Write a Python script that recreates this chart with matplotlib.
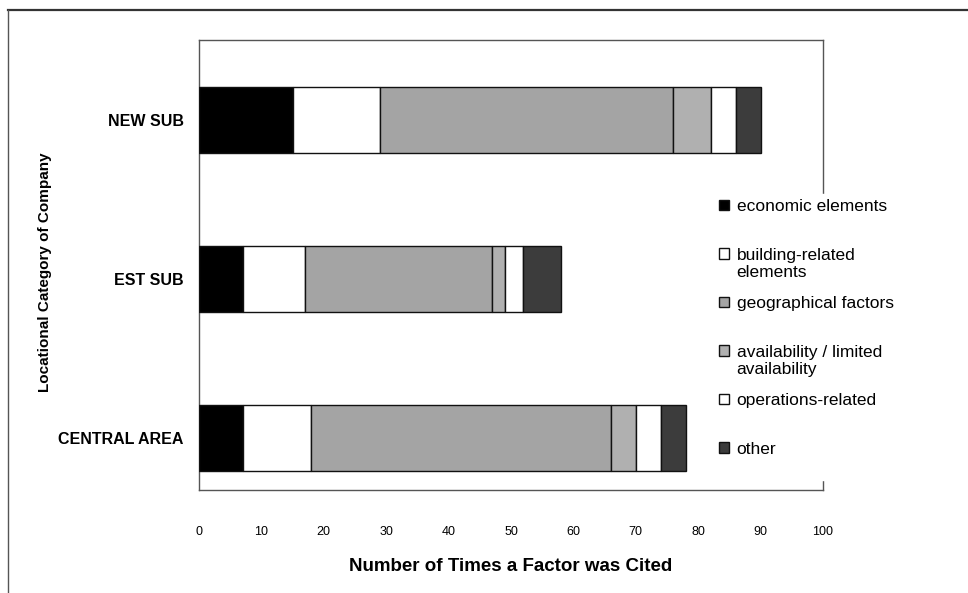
import matplotlib.pyplot as plt
from matplotlib.patches import Rectangle
from matplotlib.lines import Line2D
from matplotlib.legend_handler import HandlerPatch

plt.rcParams['font.family'] = ['Liberation Sans', 'DejaVu Sans']

categories = ['CENTRAL AREA', 'EST SUB', 'NEW SUB']
economic = [7, 7, 15]
building = [11, 10, 14]
geographical = [48, 30, 47]
availability = [4, 2, 6]
operations = [4, 3, 4]
other = [4, 6, 4]

series = [
    ('economic elements', economic, '#000000'),
    ('building-related\nelements', building, '#ffffff'),
    ('geographical factors', geographical, '#a4a4a4'),
    ('availability / limited\navailability', availability, '#b0b0b0'),
    ('operations-related', operations, '#ffffff'),
    ('other', other, '#3c3c3c'),
]

x_ticks = [0, 10, 20, 30, 40, 50, 60, 70, 80, 90, 100]

fig = plt.figure(figsize=(9.68, 5.93), dpi=100)
ax = fig.add_axes([199 / 968, 1 - 490 / 593, (823 - 199) / 968, (490 - 40) / 593])

ypos = range(len(categories))
left = [0] * len(categories)
handles = []
for label, vals, color in series:
    ax.barh(ypos, vals, left=left, height=0.415, color=color,
            edgecolor='#111111', linewidth=1.0, zorder=3)
    left = [l + v for l, v in zip(left, vals)]
    handles.append(Rectangle((0, 0), 1, 1, facecolor=color,
                             edgecolor='#111111', linewidth=1.0))

ax.set_ylim(-0.327, 2.503)
ax.set_xlim(0, 100)
ax.set_xticks(x_ticks)
ax.set_yticks(list(ypos))
ax.set_yticklabels(categories, fontsize=11.5, fontweight='bold')
ax.tick_params(axis='x', length=0, pad=26, labelsize=9)
ax.tick_params(axis='y', length=0, pad=11)

for s in ax.spines.values():
    s.set_color('#555555')
    s.set_linewidth(1.0)

ax.set_xlabel('Number of Times a Factor was Cited', fontsize=13.5,
              fontweight='bold', labelpad=14)
ax.set_ylabel('Locational Category of Company', fontsize=11,
              fontweight='bold')
ax.yaxis.set_label_coords(-0.235, 0.485)


def shifted_patch(legend, orig_handle, xdescent, ydescent, width, height, fontsize):
    # put the square next to the first line of a two-line label
    return Rectangle((-xdescent, -ydescent + 0.6 * fontsize), width, height)


labels = [lab if '\n' in lab else lab + '\n ' for lab, _, _ in series]
leg = ax.legend(handles, labels, loc='upper left',
                bbox_to_anchor=(714 / 968, 1 - 194 / 593),
                bbox_transform=fig.transFigure, fontsize=12.5,
                frameon=True, facecolor='white', edgecolor='white',
                framealpha=1, borderpad=0.3, borderaxespad=0,
                handlelength=0.55, handleheight=0.55, handletextpad=0.45,
                labelspacing=0.93,
                handler_map={Rectangle: HandlerPatch(patch_func=shifted_patch)})
leg.set_zorder(10)

# outer border of the figure box
fig.add_artist(Line2D([8 / 968, 1], [1 - 10 / 593, 1 - 10 / 593],
                      color='#333333', linewidth=1.6))
fig.add_artist(Line2D([8 / 968, 8 / 968], [0, 1 - 10 / 593],
                      color='#555555', linewidth=1.0))

fig.savefig('out.png', dpi=100)
